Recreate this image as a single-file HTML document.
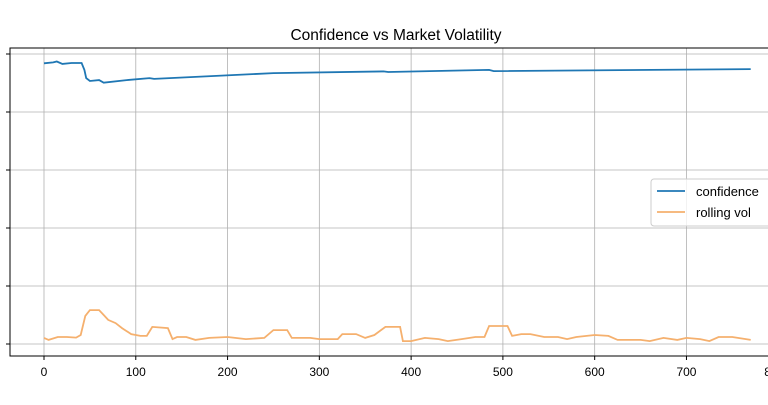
<!DOCTYPE html>
<html><head><meta charset="utf-8"><style>
body{margin:0;background:#fff}
svg{font-family:"Liberation Sans","DejaVu Sans",sans-serif}
</style></head><body>
<svg id="chart" width="768" height="400" xmlns="http://www.w3.org/2000/svg">
<text x="396" y="40" text-anchor="middle" font-size="15.5" fill="#000">Confidence vs Market Volatility</text>
<g id="grid"></g>
<g id="series"></g>
<g id="axes"></g>
<g>
<rect x="651" y="179" width="125" height="47" rx="3" fill="#fff" fill-opacity="0.8" stroke="#ccc"/>
<line x1="657" y1="191" x2="685" y2="191" stroke="#1f77b4" stroke-width="1.7"/>
<text x="696" y="196" font-size="13">confidence</text>
<line x1="657" y1="212" x2="685" y2="212" stroke="#f5b06e" stroke-width="1.7"/>
<text x="696" y="217" font-size="13">rolling vol</text>
</g>
</svg>
<script>
const xTicks=[0,100,200,300,400,500,600,700,800];
const yTicks=[0,0.2,0.4,0.6,0.8,1.0];
const confX=[0,10,14,20,30,41,44,46,50,60,65,90,115,120,250,370,375,485,490,770];
const confY=[.968,.971,.974,.966,.969,.969,.945,.917,.907,.910,.901,.910,.917,.914,.934,.940,.938,.945,.941,.948];
const volX=[0,5,15,25,35,40,45,50,60,65,70,78,85,95,105,112,118,135,140,145,155,165,180,200,220,240,250,265,270,290,300,320,325,340,350,360,372,388,391,400,415,430,440,455,470,480,485,505,510,520,530,545,560,570,580,600,615,625,650,660,675,690,700,715,725,735,750,770];
const volY=[.021,.014,.024,.024,.022,.031,.097,.117,.117,.1,.083,.072,.055,.034,.028,.028,.059,.055,.017,.024,.024,.014,.021,.024,.017,.021,.048,.048,.021,.021,.017,.017,.034,.034,.021,.031,.059,.059,.010,.010,.021,.017,.010,.017,.024,.024,.062,.062,.028,.034,.034,.024,.024,.017,.024,.031,.028,.014,.014,.010,.021,.014,.021,.017,.010,.024,.024,.014];
const X=v=>44+v*0.9178, Y=v=>344-v*290;
const NS="http://www.w3.org/2000/svg";
const mk=(p,t,a)=>{const e=document.createElementNS(NS,t);for(const k in a)e.setAttribute(k,a[k]);document.getElementById(p).appendChild(e);return e;};
xTicks.forEach(t=>{
 const x=X(t);
 if(x<768){const g=mk('grid','line',{x1:x,y1:48,x2:x,y2:356,stroke:'#b0b0b0','stroke-width':0.8});
 
 }
 const tk=mk('axes','line',{x1:x,y1:356,x2:x,y2:360,stroke:'#000'});
 
 
 const l=mk('axes','text',{x:t===800?x-4:x,y:376,'text-anchor':'middle','font-size':12});l.textContent=t;
 
 
});
yTicks.forEach(t=>{
 const y=Y(t);
 const g=mk('grid','line',{x1:10,y1:y,x2:768,y2:y,stroke:'#b0b0b0','stroke-width':0.8});
 
 
 const tk=mk('axes','line',{x1:6,y1:y,x2:10,y2:y,stroke:'#000'});
 
 
});
const sp=mk('axes','path',{d:'M768 48H10V356H768',fill:'none',stroke:'#000','stroke-width':1});


const pts=(xs,ys)=>xs.map((v,i)=>X(v).toFixed(1)+','+Y(ys[i]).toFixed(1)).join(' ');
const c=mk('series','polyline',{points:pts(confX,confY),fill:'none',stroke:'#1f77b4','stroke-width':1.8});


const v=mk('series','polyline',{points:pts(volX,volY),fill:'none',stroke:'#f5b06e','stroke-width':1.8});


</script>
</body></html>
